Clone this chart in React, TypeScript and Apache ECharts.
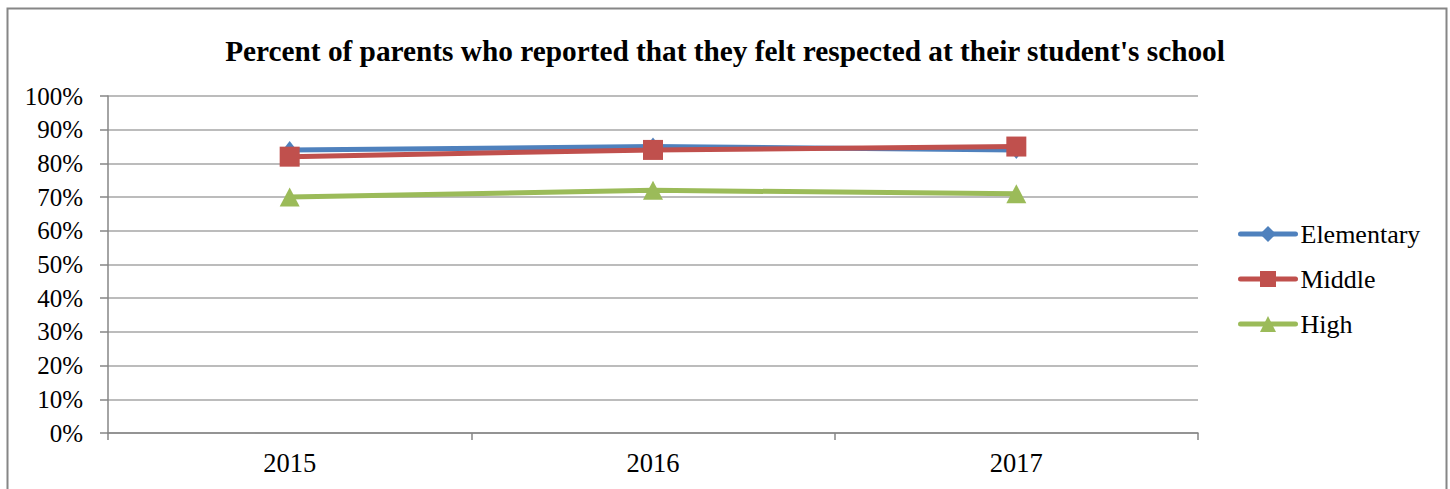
import React, { useEffect, useRef } from "react";
import * as echarts from "echarts";

const title = "Percent of parents who reported that they felt respected at their student's school";
const years = ["2015", "2016", "2017"];
const elementary = [84, 85, 84];
const middle = [82, 84, 85];
const high = [70, 72, 71];

const FONT = "'Liberation Serif', 'Times New Roman', serif";

export default function App() {
  const ref = useRef<HTMLDivElement>(null);
  useEffect(() => {
    const chart = echarts.init(ref.current!, null, { renderer: "svg" });
    chart.setOption({
      animation: false,
      backgroundColor: "#ffffff",
      title: {
        text: title,
        left: "center",
        top: 31,
        textStyle: { fontFamily: FONT, fontSize: 29.3, fontWeight: "bold", color: "#000" },
      },
      graphic: [
        {
          type: "rect",
          shape: { x: 7.5, y: 8.5, width: 1439, height: 520 },
          style: { fill: "none", stroke: "#868686", lineWidth: 2 },
          silent: true,
        },
      ],
      legend: {
        orient: "vertical",
        left: 1238,
        top: 221,
        padding: 0,
        itemWidth: 55,
        itemHeight: 20,
        itemGap: 19,
        lineStyle: { width: 5, cap: "round" },
        textStyle: { fontFamily: FONT, fontSize: 26, color: "#000" },
        data: ["Elementary", "Middle", "High"],
      },
      grid: { left: 108, right: 252, top: 96, bottom: 56, containLabel: false },
      xAxis: {
        type: "category",
        data: years,
        boundaryGap: true,
        axisLine: { lineStyle: { color: "#868686", width: 1.5 } },
        axisTick: { show: true, length: 7, lineStyle: { color: "#868686", width: 1.5 } },
        axisLabel: { fontFamily: FONT, fontSize: 26.5, color: "#000", margin: 16 },
      },
      yAxis: {
        type: "value",
        min: 0,
        max: 100,
        interval: 10,
        axisLine: { show: true, lineStyle: { color: "#868686", width: 1.5 } },
        axisTick: { show: true, length: 8, lineStyle: { color: "#868686", width: 1.5 } },
        axisLabel: { fontFamily: FONT, fontSize: 25, color: "#000", margin: 25, formatter: "{value}%" },
        splitLine: { lineStyle: { color: "#A6A6A6", width: 1.5 } },
      },
      series: [
        {
          name: "Elementary",
          type: "line",
          data: elementary,
          color: "#4F81BD",
          lineStyle: { width: 5, color: "#4F81BD", cap: "round" },
          symbol: "diamond",
          symbolSize: [14, 18],
          itemStyle: { color: "#4F81BD" },
        },
        {
          name: "Middle",
          type: "line",
          data: middle,
          color: "#C0504D",
          lineStyle: { width: 5, color: "#C0504D", cap: "round" },
          symbol: "rect",
          symbolSize: 20,
          itemStyle: { color: "#C0504D" },
        },
        {
          name: "High",
          type: "line",
          data: high,
          color: "#9BBB59",
          lineStyle: { width: 5, color: "#9BBB59", cap: "round" },
          symbol: "triangle",
          symbolSize: [20, 19],
          itemStyle: { color: "#9BBB59" },
        },
      ],
    });
    return () => chart.dispose();
  }, []);
  return (
    <div
      ref={ref}
      style={{ position: "absolute", left: 0, top: 0, width: 1450, height: 489 }}
    />
  );
}
